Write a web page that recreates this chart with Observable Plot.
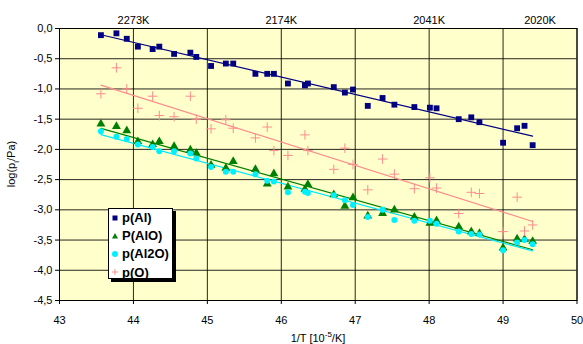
<!DOCTYPE html>
<html><head><meta charset="utf-8">
<script src="https://cdn.jsdelivr.net/npm/d3@7"></script>
<script src="https://cdn.jsdelivr.net/npm/@observablehq/plot@0.6"></script>
<style>
body{margin:0;background:#fff;font-family:"Liberation Sans",Arial,sans-serif;}
#wrap{position:relative;width:583px;height:344px;}
#legend{position:absolute;left:108px;top:208px;width:65px;height:71px;background:#fff;border:1px solid #000;box-shadow:3px 3px 0 #000;box-sizing:border-box;}
#legend .row{position:absolute;left:0;height:18px;display:flex;align-items:center;font-weight:bold;font-size:13px;white-space:nowrap;}
#legend svg{width:12px;height:12px;margin-left:0;margin-right:1px;}
.ttl{position:absolute;font-size:11px;white-space:nowrap;}
sup,sub{font-size:8px;}
</style></head><body>
<div id="wrap"></div>
<script>
// 1/T in 10^-5/K
const invT = [43.56,43.77,43.91,44.06,44.26,44.35,44.55,44.77,44.85,45.05,45.25,45.35,45.65,45.81,45.90,46.09,46.32,46.36,46.71,46.86,46.97,47.17,47.37,47.53,47.80,48.01,48.10,48.40,48.57,48.68,49.00,49.19,49.29,49.40];
const pAl  = [-0.11,-0.08,-0.17,-0.30,-0.34,-0.30,-0.42,-0.40,-0.47,-0.62,-0.58,-0.58,-0.75,-0.75,-0.75,-0.91,-0.94,-0.91,-0.97,-1.06,-1.01,-1.28,-1.15,-1.26,-1.30,-1.31,-1.32,-1.50,-1.47,-1.55,-1.89,-1.65,-1.61,-1.93];
const pAlO = [-1.58,-1.62,-1.69,-1.87,-1.92,-1.87,-1.95,-2.01,-2.06,-2.26,-2.31,-2.20,-2.33,-2.57,-2.40,-2.62,-2.66,-2.58,-2.75,-2.94,-2.80,-3.10,-3.06,-3.00,-3.12,-3.22,-3.18,-3.28,-3.36,-3.39,-3.63,-3.48,-3.49,-3.52];
const pAl2O= [-1.70,-1.79,-1.83,-1.92,-1.96,-2.03,-2.03,-2.07,-2.15,-2.29,-2.37,-2.37,-2.41,-2.52,-2.53,-2.71,-2.70,-2.72,-2.76,-2.84,-2.92,-3.12,-3.00,-3.17,-3.18,-3.18,-3.23,-3.36,-3.40,-3.41,-3.67,-3.54,-3.50,-3.57];
const pO   = [-1.08,-0.65,-1.00,-1.32,-1.12,-1.44,-1.46,-1.12,-1.50,-1.66,-1.51,-1.65,-1.81,-1.63,-2.02,-2.10,-1.76,-2.02,-2.33,-1.98,-2.25,-2.67,-2.16,-2.41,-2.65,-2.47,-2.64,-3.06,-2.71,-2.73,-3.36,-2.79,-3.35,-3.25];

const seriesNames = ["p(Al)","P(AlO)","p(Al2O)","p(O)"];
const xTicks = [43,44,45,46,47,48,49,50];
const yTicks = [0,-0.5,-1,-1.5,-2,-2.5,-3,-3.5,-4,-4.5];
const topLabelX = [44,46,48,49.5];
const topLabelText = ["2273K","2174K","2041K","2020K"];

const styles = [
  {fill:"#000080", stroke:"none", line:"#000080", symbol:"square", r:3.3},
  {fill:"#008000", stroke:"none", line:"#008000", symbol:"triangle", r:3.3},
  {fill:"#00f0ff", stroke:"none", line:"#00e8ff", symbol:"circle", r:3},
  {fill:"none", stroke:"#ff8c8c", line:"#ff8c8c", symbol:"plus", r:3.2}
];
const values = [pAl, pAlO, pAl2O, pO];
const data = values.map(v => v.map((y,i)=>({x:invT[i], y})));
const topLabels = topLabelX.map((x,i)=>({x, label: topLabelText[i]}));

const marks = [
  Plot.frame({fill:"#ffffcc", stroke:"none"}),
  Plot.gridX(xTicks, {stroke:"#000", strokeOpacity:0.85}),
  Plot.gridY(yTicks, {stroke:"#000", strokeOpacity:0.85}),
];
data.forEach((d,k)=>{
  const s = styles[k];
  marks.push(Plot.linearRegressionY(d, {x:"x", y:"y", stroke:s.line, strokeWidth:1.2, ci:0}));
});
data.forEach((d,k)=>{
  const s = styles[k];
  marks.push(Plot.dot(d, {x:"x", y:"y", symbol:s.symbol, r:s.r, fill:s.fill, stroke:s.stroke, strokeWidth:1}));
});
marks.push(
  Plot.frame({stroke:"#000"}),
  Plot.axisX({ticks:xTicks, tickFormat:d=>String(d), tickSize:4, tickPadding:12, label:null, fontSize:11}),
  Plot.axisY({ticks:yTicks, tickFormat:d=>d.toFixed(1).replace(".",","), tickSize:4, tickPadding:3, label:null, fontSize:11}),
  Plot.text(topLabels, {x:"x", text:"label", frameAnchor:"top", dy:-12, fontSize:11})
);

const chart = Plot.plot({
  width:583, height:344,
  marginLeft:59, marginRight:6.5, marginTop:28, marginBottom:44,
  style:{fontFamily:"Liberation Sans, Arial, sans-serif", fontSize:"11px", background:"transparent", color:"#000"},
  x:{domain:[43,50]},
  y:{domain:[-4.5,0]},
  marks
});
const wrap = document.getElementById("wrap");
wrap.appendChild(chart);

// axis titles
const xt = document.createElement("div");
xt.className="ttl"; xt.innerHTML = "1/T [10<sup>-5</sup>/K]";
xt.style.left="318px"; xt.style.top="330px"; xt.style.transform="translateX(-50%)";
wrap.appendChild(xt);
const yt = document.createElement("div");
yt.className="ttl"; yt.innerHTML = "log(p<sub>i</sub>/Pa)";
yt.style.left="13px"; yt.style.top="164px"; yt.style.transform="translate(-50%,-50%) rotate(-90deg)";
wrap.appendChild(yt);

// legend
const lg = document.createElement("div"); lg.id="legend";
const symPath = {
  square:'<rect x="3.5" y="3.5" width="5" height="5"/>',
  triangle:'<path d="M6 3 L9 8.5 L3 8.5 Z"/>',
  circle:'<circle cx="6" cy="6" r="3"/>',
  plus:'<path d="M6 3 V9 M3 6 H9" fill="none"/>'
};
seriesNames.forEach((name,k)=>{
  const s = styles[k];
  const row = document.createElement("div"); row.className="row";
  row.style.top = (-0.5 + k*18.2) + "px";
  row.innerHTML = `<svg viewBox="0 0 12 12"><g fill="${s.fill}" stroke="${s.stroke==='none'?'none':s.stroke}">${symPath[s.symbol]}</g></svg><span>${name}</span>`;
  lg.appendChild(row);
});
wrap.appendChild(lg);
</script>
</body></html>
